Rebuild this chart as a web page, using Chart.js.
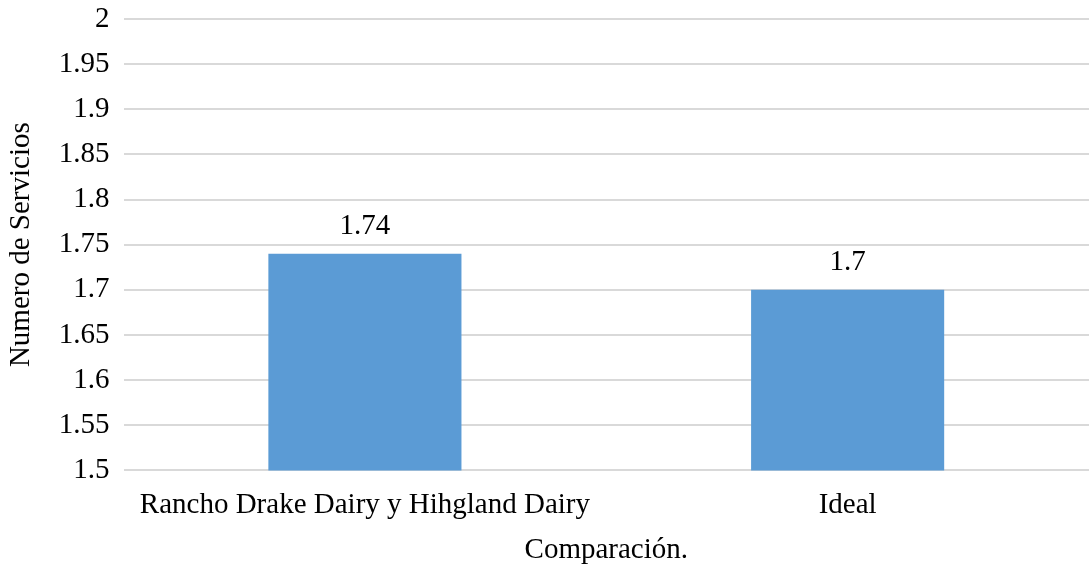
<!DOCTYPE html>
<html>
<head>
<meta charset="utf-8">
<script src="https://cdn.jsdelivr.net/npm/chart.js@4/dist/chart.umd.min.js"></script>
<style>
  html, body { margin: 0; padding: 0; background: #fff; }
  #wrap { width: 1089px; height: 565px; }
</style>
</head>
<body>
<div id="wrap"><canvas id="grafica"></canvas></div>
<script>
const categorias = ["Rancho Drake Dairy y Hihgland Dairy", "Ideal"];
const servicios = [1.74, 1.7];
const yMin = 1.5;
const yMax = 2;
const yPaso = 0.05;

const fuente = "'Liberation Serif', 'Times New Roman', serif";
const tam = 29;

// etiquetas encima de cada barra
const etiquetasValor = {
    id: "etiquetasValor",
    afterDatasetsDraw(chart) {
        const ctx = chart.ctx;
        const meta = chart.getDatasetMeta(0);
        ctx.save();
        ctx.font = tam + "px " + fuente;
        ctx.fillStyle = "#000";
        ctx.textAlign = "center";
        ctx.textBaseline = "middle";
        meta.data.forEach(function (bar, i) {
            ctx.fillText(String(servicios[i]), bar.x, bar.y - 27);
        });
        ctx.restore();
    }
};

new Chart(document.getElementById("grafica"), {
    type: "bar",
    data: {
        labels: categorias,
        datasets: [
            {
                label: "Numero de Servicios",
                data: servicios,
                backgroundColor: "#5B9BD5",
                borderWidth: 0,
                categoryPercentage: 0.4,
                barPercentage: 1,
            },
        ],
    },
    options: {
        responsive: true,
        maintainAspectRatio: false,
        animation: false,
        layout: {
            padding: { top: 0, right: 0, left: 4, bottom: -3 },
        },
        plugins: {
            legend: { display: false },
            tooltip: { enabled: false },
        },
        scales: {
            x: {
                grid: { display: false, drawTicks: false },
                border: { display: false },
                ticks: {
                    color: "#000",
                    font: { family: fuente, size: tam },
                    padding: 18,
                    maxRotation: 0,
                },
                title: {
                    display: true,
                    text: "Comparación.",
                    color: "#000",
                    font: { family: fuente, size: tam },
                    padding: { top: -8, bottom: 0 },
                },
            },
            y: {
                min: yMin,
                max: yMax,
                grid: { color: "#D9D9D9", lineWidth: 2, drawTicks: false },
                border: { display: false },
                ticks: {
                    stepSize: yPaso,
                    color: "#000",
                    font: { family: fuente, size: tam, lineHeight: 0.34 },
                    padding: 14,
                    callback: function (v) {
                        return Number(v.toFixed(2)).toString();
                    },
                },
                title: {
                    display: true,
                    text: "Numero de Servicios",
                    color: "#000",
                    font: { family: fuente, size: tam },
                    padding: { top: 0, bottom: 6 },
                },
            },
        },
    },
    plugins: [etiquetasValor],
});
</script>
</body>
</html>
